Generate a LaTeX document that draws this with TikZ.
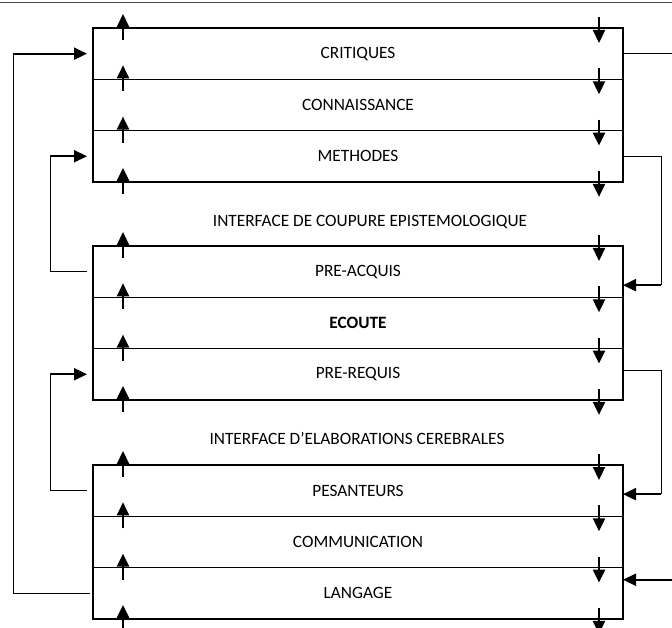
\documentclass[tikz,border=0pt]{standalone}
\usepackage{fontspec}
\setmainfont{Carlito}
\usetikzlibrary{arrows.meta,positioning,calc}

\tikzset{
  layer/.style={draw, line width=1.3pt, minimum width=530pt, minimum height=51.3pt,
    inner sep=0pt, outer sep=0pt, font=\fontsize{17.3}{20}\selectfont},
  iface/.style={font=\fontsize{17.3}{20}\selectfont},
  flow/.style={line width=2.2pt, -{Triangle[length=13pt,width=12pt]}},
  link/.style={line width=1pt},
  feed/.style={line width=2.2pt, -{Triangle[length=13pt,width=12pt]}},
}

\begin{document}
\begin{tikzpicture}[x=1pt,y=-1pt]
\useasboundingbox (0,0) rectangle (672,628);
\draw[black!70, line width=1pt] (0,3) -- (672,3);

% first block
\node[layer] (crit) at (358,53.65) {CRITIQUES};
\node[layer, below=0pt of crit] (conn) {CONNAISSANCE};
\node[layer, below=0pt of conn] (meth) {METHODES};

\node[iface] (cut) at (370,222) {INTERFACE DE COUPURE EPISTEMOLOGIQUE};

% second block
\node[layer] (preac) at (358,271.65) {PRE-ACQUIS};
\node[layer, below=0pt of preac] (ecou) {\textbf{ECOUTE}};
\node[layer, below=0pt of ecou] (prereq) {PRE-REQUIS};

\node[iface] (elab) at (357,438) {INTERFACE D'ELABORATIONS CEREBRALES};

% third block
\node[layer] (pes) at (358,490.65) {PESANTEURS};
\node[layer, below=0pt of pes] (comm) {COMMUNICATION};
\node[layer, below=0pt of comm] (lang) {LANGAGE};

% vertical flows through every layer boundary
\foreach \n in {crit,conn,meth,preac,ecou,prereq,pes,comm,lang} {
  \draw[flow] ($(\n.north west)+(30,12)$) -- ++(0,-26);
  \draw[flow] ($(\n.north east)+(-24,-11)$) -- ++(0,26);
}
\foreach \n in {meth,prereq,lang} {
  \draw[flow] ($(\n.south west)+(30,12)$) -- ++(0,-26);
  \draw[flow] ($(\n.south east)+(-24,-11)$) -- ++(0,26);
}

% loops on the left
\coordinate (outerL) at (13,0);
\coordinate (innerL) at (50,0);
\draw[link] ([xshift=-3pt]lang.west) -| (outerL |- crit.west);
\draw[feed] (outerL |- crit.west) -- ([xshift=-6pt]crit.west);
\draw[link] ([xshift=-6pt]preac.west) -| (innerL |- meth.west);
\draw[feed] (innerL |- meth.west) -- ([xshift=-6pt]meth.west);
\draw[link] ([xshift=-6pt]pes.west) -| (innerL |- prereq.west);
\draw[feed] (innerL |- prereq.west) -- ([xshift=-6pt]prereq.west);

% loops on the right
\coordinate (innerR) at (661,0);
\coordinate (outerR) at (672,0);
\coordinate (pa) at ([yshift=-13.5pt]preac.east);
\coordinate (pe) at ([yshift=-3.5pt]pes.east);
\coordinate (la) at ([yshift=13.5pt]lang.east);
\draw[link] (meth.east) -| (innerR |- pa);
\draw[feed] (innerR |- pa) -- (pa);
\draw[link] ([yshift=3.5pt]prereq.east) -| (innerR |- pe);
\draw[feed] (innerR |- pe) -- (pe);
\draw[link] (crit.east) -- (outerR |- crit.east);
\draw[feed] (outerR |- la) -- (la);
\end{tikzpicture}
\end{document}
